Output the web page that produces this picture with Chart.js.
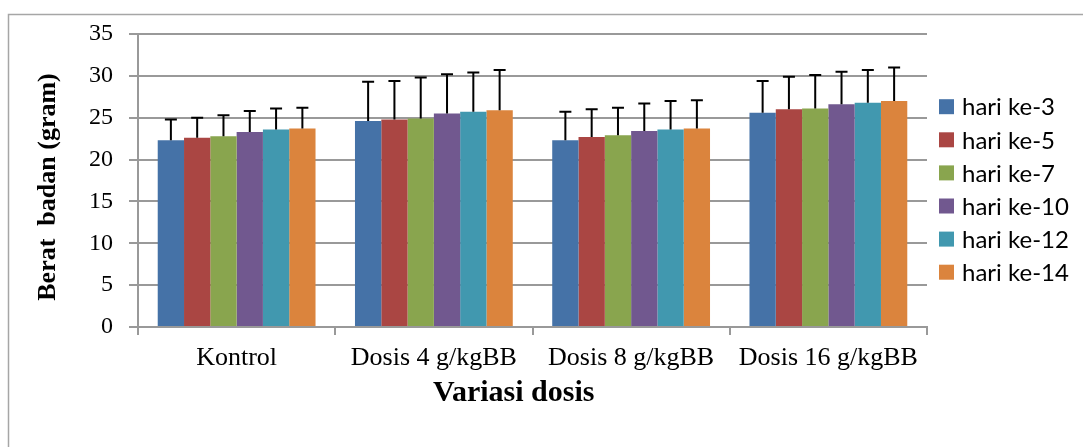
<!DOCTYPE html>
<html>
<head>
<meta charset="utf-8">
<script src="https://cdn.jsdelivr.net/npm/chart.js@4.4.1/dist/chart.umd.min.js"></script>
<style>
  html, body { margin: 0; padding: 0; background: #ffffff; }
  canvas { display: block; }
</style>
</head>
<body>
<canvas id="c" width="1083" height="447"></canvas>
<script>
const categories = ['Kontrol', 'Dosis 4 g/kgBB', 'Dosis 8 g/kgBB', 'Dosis 16 g/kgBB'];
const seriesNames = ['hari ke-3', 'hari ke-5', 'hari ke-7', 'hari ke-10', 'hari ke-12', 'hari ke-14'];
const seriesColors = ['#4572A7', '#AA4643', '#89A54E', '#71588F', '#4198AF', '#DB843D'];

const hari3  = [22.3, 24.6, 22.3, 25.6];
const hari5  = [22.6, 24.8, 22.7, 26.0];
const hari7  = [22.8, 24.9, 22.9, 26.1];
const hari10 = [23.3, 25.5, 23.4, 26.6];
const hari12 = [23.6, 25.7, 23.6, 26.8];
const hari14 = [23.7, 25.9, 23.7, 27.0];

const err3  = [2.5, 4.7, 3.4, 3.8];
const err5  = [2.4, 4.6, 3.3, 3.9];
const err7  = [2.5, 4.9, 3.3, 4.0];
const err10 = [2.5, 4.7, 3.3, 3.9];
const err12 = [2.5, 4.7, 3.4, 3.9];
const err14 = [2.5, 4.8, 3.4, 4.0];

const yTicks = [0, 5, 10, 15, 20, 25, 30, 35];

const seriesValues = [hari3, hari5, hari7, hari10, hari12, hari14];
const seriesErrors = [err3, err5, err7, err10, err12, err14];

const datasets = seriesNames.map((name, i) => ({
  label: name,
  data: seriesValues[i],
  errors: seriesErrors[i],
  backgroundColor: seriesColors[i],
  borderWidth: 0,
  categoryPercentage: 0.8,
  barPercentage: 1.0
}));

const frame = {
  id: 'frame',
  beforeDraw(chart) {
    const ctx = chart.ctx;
    ctx.save();
    ctx.fillStyle = '#ffffff';
    ctx.fillRect(0, 0, chart.width, chart.height);
    ctx.strokeStyle = '#a6a6a6';
    ctx.lineWidth = 1.5;
    ctx.beginPath();
    ctx.moveTo(8.5, chart.height);
    ctx.lineTo(8.5, 14.5);
    ctx.lineTo(chart.width, 14.5);
    ctx.stroke();
    ctx.restore();
  }
};

const errorBars = {
  id: 'errorBars',
  afterDatasetsDraw(chart) {
    const ctx = chart.ctx;
    const y = chart.scales.y;
    ctx.save();
    ctx.strokeStyle = '#000000';
    ctx.lineWidth = 2;
    chart.data.datasets.forEach((ds, di) => {
      const meta = chart.getDatasetMeta(di);
      meta.data.forEach((bar, i) => {
        const top = y.getPixelForValue(ds.data[i] + ds.errors[i]);
        ctx.beginPath();
        ctx.moveTo(bar.x, bar.y);
        ctx.lineTo(bar.x, top);
        ctx.moveTo(bar.x - 6, top);
        ctx.lineTo(bar.x + 6, top);
        ctx.stroke();
      });
    });
    ctx.restore();
  }
};

const customLegend = {
  id: 'customLegend',
  afterDraw(chart) {
    const ctx = chart.ctx;
    ctx.save();
    ctx.font = '24px Lato, "Liberation Sans", sans-serif';
    ctx.textBaseline = 'middle';
    ctx.textAlign = 'left';
    const x0 = chart.chartArea.right + 12;
    const y0 = 106.7;
    const step = 33.1;
    chart.data.datasets.forEach((ds, i) => {
      const cy = y0 + i * step;
      ctx.fillStyle = ds.backgroundColor;
      ctx.fillRect(x0, cy - 7.5, 15, 15);
      ctx.fillStyle = '#000000';
      ctx.fillText(ds.label, x0 + 23, cy + 1);
    });
    ctx.restore();
  }
};

new Chart(document.getElementById('c'), {
  type: 'bar',
  data: { labels: categories, datasets: datasets },
  options: {
    responsive: false,
    animation: false,
    layout: { padding: { left: 8, right: 156, top: 34, bottom: 0 } },
    plugins: {
      legend: { display: false },
      tooltip: { enabled: false }
    },
    scales: {
      x: {
        afterFit(scale) { scale.height = 120; },
        grid: {
          display: true,
          offset: true,
          drawOnChartArea: false,
          drawTicks: true,
          tickLength: 8,
          color: '#999999',
          lineWidth: 2
        },
        border: { display: true, color: '#999999', width: 2 },
        ticks: {
          color: '#000000',
          padding: 8,
          font: { family: '"Liberation Serif", "Times New Roman", serif', size: 26 }
        },
        title: {
          display: true,
          text: 'Variasi dosis     ',
          color: '#000000',
          padding: { top: 0, bottom: 36 },
          font: { family: '"Liberation Serif", "Times New Roman", serif', size: 30, weight: 'bold' }
        }
      },
      y: {
        min: 0,
        max: 35,
        afterFit(scale) { scale.width = 130; },
        afterBuildTicks(scale) { scale.ticks = yTicks.map(v => ({ value: v })); },
        grid: {
          color: '#999999',
          lineWidth: 2,
          drawTicks: true,
          tickLength: 9
        },
        border: { display: true, color: '#999999', width: 2 },
        ticks: {
          color: '#000000',
          padding: 16,
          font: { family: '"Liberation Serif", "Times New Roman", serif', size: 24 }
        },
        title: {
          display: true,
          text: 'Berat  badan (gram)  ',
          color: '#000000',
          padding: { top: 25, bottom: 0 },
          font: { family: '"Liberation Serif", "Times New Roman", serif', size: 26, weight: 'bold' }
        }
      }
    }
  },
  plugins: [frame, errorBars, customLegend]
});
</script>
</body>
</html>
